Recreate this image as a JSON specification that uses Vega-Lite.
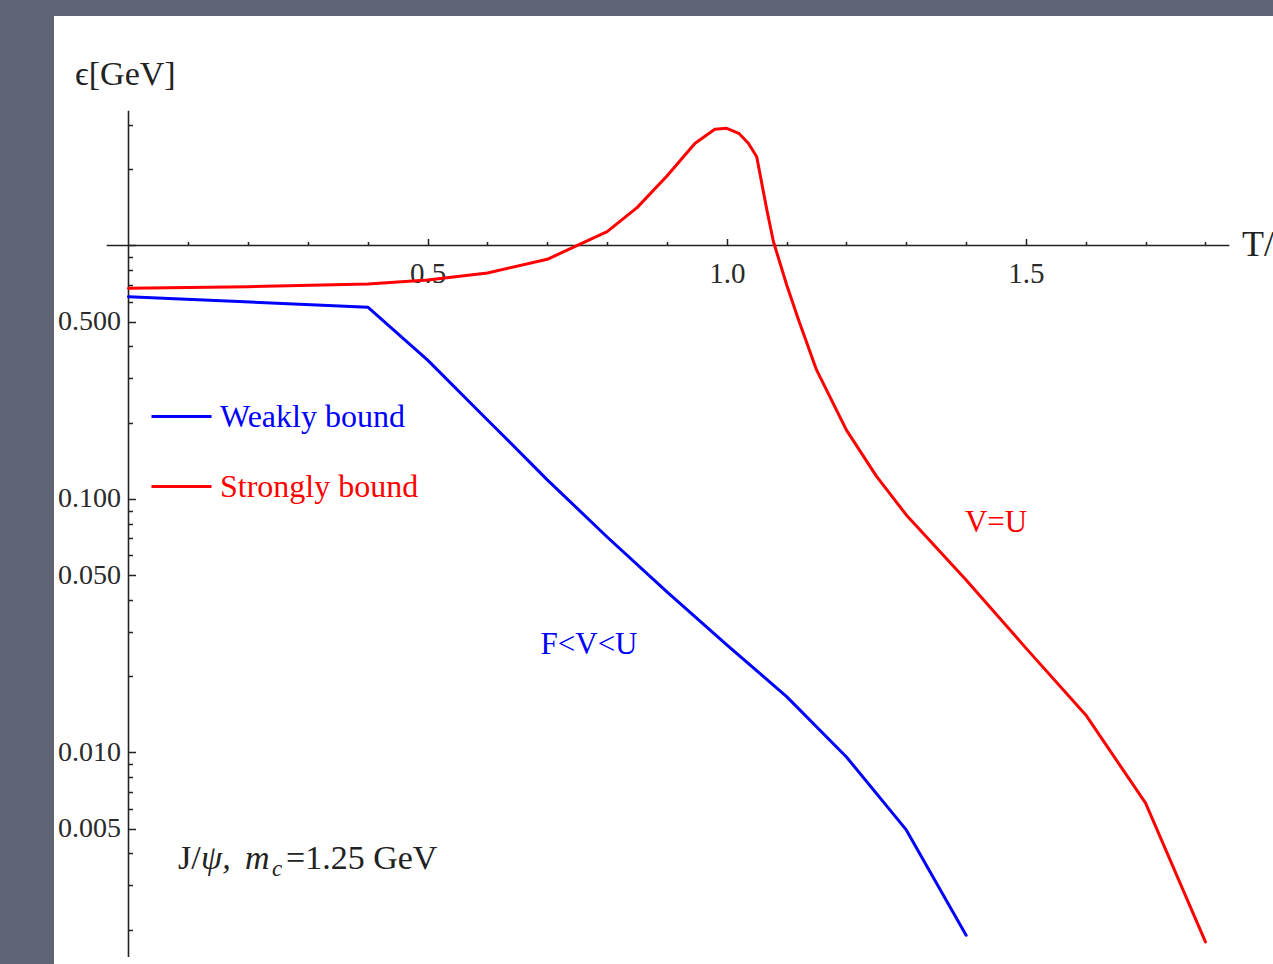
{
  "$schema": "https://vega.github.io/schema/vega-lite/v6.json",
  "width": 1219,
  "height": 948,
  "autosize": {"type": "none"},
  "padding": {"left": 54, "top": 16, "right": 0, "bottom": 0},
  "background": "#5f6474",
  "config": {
    "view": {"fill": "white", "stroke": null},
    "font": "Liberation Serif",
    "text": {"font": "Liberation Serif"}
  },
  "layer": [
    {
      "data": {"values": [
        {"axis": "x", "T": -0.0364, "T2": 1.84, "e": 1, "e2": 1},
        {"axis": "y", "T": 0, "T2": 0, "e": 0.00156, "e2": 3.4}
      ]},
      "mark": {"type": "rule", "color": "#222222", "strokeWidth": 1.6},
      "encoding": {
        "x": {
          "field": "T", "type": "quantitative",
          "scale": {"domain": [-0.12452, 1.91292], "nice": false, "zero": false},
          "axis": {
            "orient": "bottom", "offset": -718.5, "domain": false, "grid": false, "title": null,
            "values": [0.1, 0.2, 0.3, 0.4, 0.5, 0.6, 0.7, 0.8, 0.9, 1, 1.1, 1.2, 1.3, 1.4, 1.5, 1.6, 1.7, 1.8],
            "tickSize": {"condition": {"test": "datum.value == 0.5 || datum.value == 1 || datum.value == 1.5", "value": -7}, "value": -4},
            "tickColor": "#222222", "tickWidth": 1.5,
            "labelExpr": "(datum.value == 0.5 || datum.value == 1 || datum.value == 1.5) ? format(datum.value, '.1f') : ''",
            "labelFont": "Liberation Serif", "labelFontSize": 29, "labelColor": "#2a2a2a",
            "labelPadding": 21, "labelOverlap": false, "labelFlush": false
          }
        },
        "x2": {"field": "T2"},
        "y": {
          "field": "e", "type": "quantitative",
          "scale": {"type": "log", "domain": [0.001464, 8.04], "nice": false},
          "axis": {
            "orient": "left", "offset": -74.5, "domain": false, "grid": false, "title": null,
            "values": [0.002, 0.003, 0.004, 0.005, 0.006, 0.007, 0.008, 0.009, 0.01, 0.02, 0.03, 0.04, 0.05, 0.06, 0.07, 0.08, 0.09, 0.1, 0.2, 0.3, 0.4, 0.5, 0.6, 0.7, 0.8, 0.9, 1, 2, 3],
            "tickSize": {"condition": {"test": "datum.value == 0.5 || datum.value == 0.1 || datum.value == 0.05 || datum.value == 0.01 || datum.value == 0.005 || datum.value == 1", "value": -7}, "value": -4},
            "tickColor": "#222222", "tickWidth": 1.5,
            "labelExpr": "(datum.value == 0.5 || datum.value == 0.1 || datum.value == 0.05 || datum.value == 0.01 || datum.value == 0.005) ? format(datum.value, '.3f') : ''",
            "labelFont": "Liberation Serif", "labelFontSize": 28, "labelColor": "#2a2a2a",
            "labelPadding": 15, "labelOverlap": false, "labelFlush": false
          }
        },
        "y2": {"field": "e2"}
      }
    },
    {
      "data": {"values": [
        {"series": "Weakly bound", "T": 0, "eps": 0.628},
        {"series": "Weakly bound", "T": 0.4, "eps": 0.571},
        {"series": "Weakly bound", "T": 0.5, "eps": 0.353},
        {"series": "Weakly bound", "T": 0.6, "eps": 0.205},
        {"series": "Weakly bound", "T": 0.7, "eps": 0.119},
        {"series": "Weakly bound", "T": 0.8, "eps": 0.0708},
        {"series": "Weakly bound", "T": 0.9, "eps": 0.043},
        {"series": "Weakly bound", "T": 1.0, "eps": 0.0266},
        {"series": "Weakly bound", "T": 1.1, "eps": 0.0166},
        {"series": "Weakly bound", "T": 1.2, "eps": 0.0096},
        {"series": "Weakly bound", "T": 1.3, "eps": 0.00495},
        {"series": "Weakly bound", "T": 1.4, "eps": 0.0019},
        {"series": "Strongly bound", "T": 0, "eps": 0.678},
        {"series": "Strongly bound", "T": 0.2, "eps": 0.688},
        {"series": "Strongly bound", "T": 0.4, "eps": 0.705},
        {"series": "Strongly bound", "T": 0.5, "eps": 0.731},
        {"series": "Strongly bound", "T": 0.6, "eps": 0.779},
        {"series": "Strongly bound", "T": 0.7, "eps": 0.882},
        {"series": "Strongly bound", "T": 0.8, "eps": 1.134},
        {"series": "Strongly bound", "T": 0.85, "eps": 1.41},
        {"series": "Strongly bound", "T": 0.9, "eps": 1.88},
        {"series": "Strongly bound", "T": 0.947, "eps": 2.53},
        {"series": "Strongly bound", "T": 0.98, "eps": 2.873},
        {"series": "Strongly bound", "T": 1.0, "eps": 2.9},
        {"series": "Strongly bound", "T": 1.02, "eps": 2.77},
        {"series": "Strongly bound", "T": 1.036, "eps": 2.53},
        {"series": "Strongly bound", "T": 1.05, "eps": 2.24},
        {"series": "Strongly bound", "T": 1.067, "eps": 1.38},
        {"series": "Strongly bound", "T": 1.078, "eps": 1.035},
        {"series": "Strongly bound", "T": 1.1, "eps": 0.7},
        {"series": "Strongly bound", "T": 1.12, "eps": 0.508},
        {"series": "Strongly bound", "T": 1.15, "eps": 0.323},
        {"series": "Strongly bound", "T": 1.2, "eps": 0.187},
        {"series": "Strongly bound", "T": 1.25, "eps": 0.123},
        {"series": "Strongly bound", "T": 1.3, "eps": 0.0865},
        {"series": "Strongly bound", "T": 1.4, "eps": 0.0479},
        {"series": "Strongly bound", "T": 1.5, "eps": 0.0258},
        {"series": "Strongly bound", "T": 1.6, "eps": 0.01406},
        {"series": "Strongly bound", "T": 1.7, "eps": 0.00631},
        {"series": "Strongly bound", "T": 1.8, "eps": 0.00179}
      ]},
      "mark": {"type": "line", "strokeWidth": 3, "strokeJoin": "round", "strokeCap": "round"},
      "encoding": {
        "x": {"field": "T", "type": "quantitative"},
        "y": {"field": "eps", "type": "quantitative"},
        "color": {
          "field": "series", "type": "nominal",
          "scale": {"domain": ["Weakly bound", "Strongly bound"], "range": ["#0000ff", "#ff0000"]},
          "legend": {
            "orient": "none", "legendX": 96, "legendY": 369, "title": null, "padding": 0,
            "symbolType": "stroke", "symbolSize": 3600, "symbolStrokeWidth": 3,
            "labelFont": "Liberation Serif", "labelFontSize": 32, "labelOffset": 7, "labelLimit": 0, "rowPadding": 22,
            "encode": {"labels": {"update": {"fill": {"scale": "color", "field": "value"}}}}
          }
        }
      }
    },
    {
      "data": {"values": [{"T": -0.0894, "eps": 4.706, "text": "ϵ[GeV]"}]},
      "mark": {"type": "text", "align": "left", "baseline": "middle", "fontSize": 34, "color": "#222222", "font": "Liberation Serif, DejaVu Serif"},
      "encoding": {"x": {"field": "T", "type": "quantitative"}, "y": {"field": "eps", "type": "quantitative"}, "text": {"field": "text"}}
    },
    {
      "data": {"values": [{"T": 1.861, "eps": 1, "text": "T/Tc"}]},
      "mark": {"type": "text", "align": "left", "baseline": "middle", "fontSize": 36, "color": "#222222"},
      "encoding": {"x": {"field": "T", "type": "quantitative"}, "y": {"field": "eps", "type": "quantitative"}, "text": {"field": "text"}}
    },
    {
      "data": {"values": [{"T": 1.45, "eps": 0.0804, "text": "V=U"}]},
      "mark": {"type": "text", "align": "center", "baseline": "middle", "fontSize": 31, "color": "#ff0000"},
      "encoding": {"x": {"field": "T", "type": "quantitative"}, "y": {"field": "eps", "type": "quantitative"}, "text": {"field": "text"}}
    },
    {
      "data": {"values": [{"T": 0.7697, "eps": 0.02655, "text": "F<V<U"}]},
      "mark": {"type": "text", "align": "center", "baseline": "middle", "fontSize": 31, "color": "#0000ff"},
      "encoding": {"x": {"field": "T", "type": "quantitative"}, "y": {"field": "eps", "type": "quantitative"}, "text": {"field": "text"}}
    },
    {
      "data": {"values": [
        {"T": 0.0827, "eps": 0.00347, "text": "J/"},
        {"T": 0.2632, "eps": 0.00347, "text": "=1.25 GeV"}
      ]},
      "mark": {"type": "text", "align": "left", "baseline": "alphabetic", "fontSize": 34, "color": "#222222"},
      "encoding": {"x": {"field": "T", "type": "quantitative"}, "y": {"field": "eps", "type": "quantitative"}, "text": {"field": "text"}}
    },
    {
      "data": {"values": [
        {"T": 0.1212, "eps": 0.00347, "text": "ψ,"},
        {"T": 0.1947, "eps": 0.00347, "text": "m"}
      ]},
      "mark": {"type": "text", "align": "left", "baseline": "alphabetic", "fontSize": 34, "fontStyle": "italic", "color": "#222222"},
      "encoding": {"x": {"field": "T", "type": "quantitative"}, "y": {"field": "eps", "type": "quantitative"}, "text": {"field": "text"}}
    },
    {
      "data": {"values": [{"T": 0.2399, "eps": 0.003258, "text": "c"}]},
      "mark": {"type": "text", "align": "left", "baseline": "alphabetic", "fontSize": 23, "fontStyle": "italic", "color": "#222222"},
      "encoding": {"x": {"field": "T", "type": "quantitative"}, "y": {"field": "eps", "type": "quantitative"}, "text": {"field": "text"}}
    }
  ]
}
